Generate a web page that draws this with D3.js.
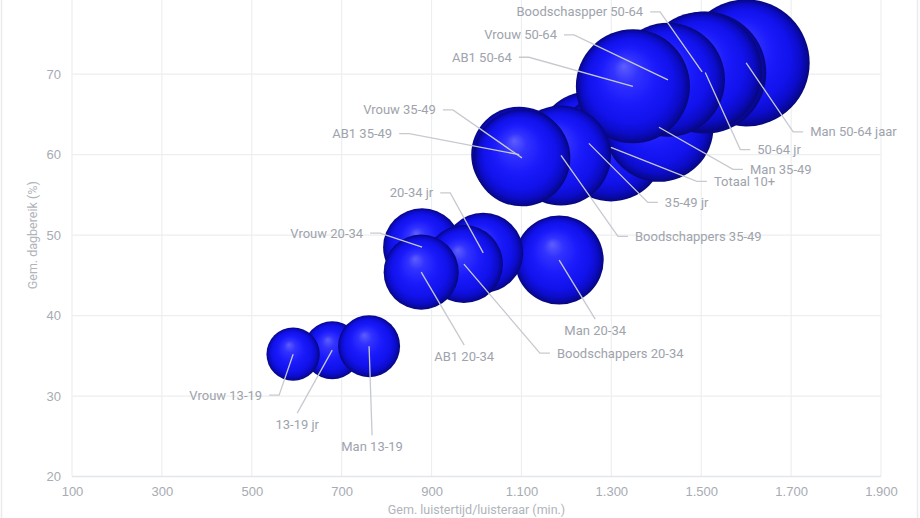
<!DOCTYPE html>
<html>
<head>
<meta charset="utf-8">
<script src="https://cdn.jsdelivr.net/npm/d3@7"></script>
<style>
  html, body { margin: 0; padding: 0; background: #ffffff; }
  svg { display: block; font-family: Roboto, "Noto Sans", sans-serif; }
</style>
</head>
<body>
<svg id="chart" width="920" height="518"></svg>
<script>
// ---- data (back-to-front draw order) ----
const labels = [
  "35-49 jr", "Totaal 10+", "Man 35-49", "Man 50-64 jaar", "50-64 jr",
  "Boodschaspper 50-64", "Vrouw 50-64", "AB1 50-64", "Boodschappers 35-49",
  "AB1 35-49", "Vrouw 35-49", "Man 20-34", "20-34 jr", "Vrouw 20-34",
  "Boodschappers 20-34", "AB1 20-34", "13-19 jr", "Vrouw 13-19", "Man 13-19"
];
// Gem. luistertijd/luisteraar (min.)
const listenTime = [
  1250, 1299, 1406, 1600, 1509,
  1502, 1426, 1348, 1188,
  1095, 1101, 1184, 1015, 879,
  972, 877, 679, 592, 761
];
// Gem. dagbereik (%)
const dailyReach = [
  61.4, 60.9, 63.4, 71.4, 70.2,
  70.3, 69.3, 68.5, 59.9,
  60.0, 59.6, 46.9, 47.8, 48.5,
  46.4, 45.4, 35.7, 35.2, 36.2
];
// bubble size value
const bubbleSize = [
  270, 292, 297, 403, 372,
  360, 325, 325, 250,
  230, 235, 198, 160, 152,
  152, 141, 84, 71, 96
];
const xTicks = [100, 300, 500, 700, 900, 1100, 1300, 1500, 1700, 1900];
const yTicks = [20, 30, 40, 50, 60, 70];
const xTitle = "Gem. luistertijd/luisteraar (min.)";
const yTitle = "Gem. dagbereik (%)";

// ---- label layout (offsets from bubble centre, px) ----
const labelLayout = {
  "Vrouw 35-49":        {side: "left",  dx: -86,  dy: -48},
  "AB1 35-49":          {side: "left",  dx: -127, dy: -21},
  "20-34 jr":           {side: "left",  dx: -50,  dy: -60},
  "Vrouw 20-34":        {side: "left",  dx: -59,  dy: -14},
  "AB1 50-64":          {side: "left",  dx: -121, dy: -29},
  "Vrouw 50-64":        {side: "left",  dx: -111, dy: -45},
  "Boodschaspper 50-64":{side: "left",  dx: -59,  dy: -60},
  "Vrouw 13-19":        {side: "left",  dx: -31,  dy: 41},
  "Man 50-64 jaar":     {side: "right", dx: 64,   dy: 69},
  "50-64 jr":           {side: "right", dx: 52,   dy: 77},
  "Man 35-49":          {side: "right", dx: 91,   dy: 42},
  "Totaal 10+":         {side: "right", dx: 103,  dy: 34},
  "35-49 jr":           {side: "right", dx: 76,   dy: 59},
  "Boodschappers 35-49":{side: "right", dx: 74,   dy: 81},
  "Boodschappers 20-34":{side: "right", dx: 93,   dy: 89},
  "13-19 jr":           {side: "below", dx: -35,  dy: 74},
  "Man 13-19":          {side: "below", dx: 3,    dy: 100},
  "Man 20-34":          {side: "below", dx: 36,   dy: 70},
  "AB1 20-34":          {side: "below", dx: 43,   dy: 84}
};

const svg = d3.select("#chart");
const left = 72, right = 881, bottom = 476.5, topY = 0;

const x = d3.scaleLinear().domain([100, 1900]).range([left, right]);
const y = d3.scaleLinear().domain([20, 80]).range([bottom, bottom - 60 * 8.046]);
const r = d3.scaleSqrt().domain([0, d3.max(bubbleSize)]).range([0, 63.5]);

const nl = d3.formatLocale({decimal: ",", thousands: ".", grouping: [3], currency: ["€", ""]});
const fmt = nl.format(",");

// frame lines
svg.append("line").attr("x1", 1.5).attr("x2", 1.5).attr("y1", 0).attr("y2", 518)
  .attr("stroke", "#e9ebee").attr("stroke-width", 1.5);
svg.append("line").attr("x1", 917.5).attr("x2", 917.5).attr("y1", 0).attr("y2", 518)
  .attr("stroke", "#e9ebee").attr("stroke-width", 1.5);

// gradient
const defs = svg.append("defs");
const grad = defs.append("radialGradient").attr("id", "sphere")
  .attr("cx", "50%").attr("cy", "50%").attr("r", "50%")
  .attr("fx", "42%").attr("fy", "32%");
[[0, "#5e5eff"], [0.22, "#3232ff"], [0.5, "#1a1afb"], [0.74, "#1212ec"], [0.88, "#0c0cc8"], [0.96, "#08089a"], [1, "#070778"]]
  .forEach(([o, c]) => grad.append("stop").attr("offset", o).attr("stop-color", c));

// grid
const grid = svg.append("g");
grid.selectAll("line.v").data(xTicks).join("line")
  .attr("x1", d => x(d)).attr("x2", d => x(d))
  .attr("y1", topY).attr("y2", bottom)
  .attr("stroke", "#eceef1").attr("stroke-width", 1.2);
grid.selectAll("line.h").data(yTicks).join("line")
  .attr("x1", left).attr("x2", right)
  .attr("y1", d => y(d)).attr("y2", d => y(d))
  .attr("stroke", d => d === 20 ? "#e2e5e9" : "#eceef1").attr("stroke-width", d => d === 20 ? 1.6 : 1.2);

// axes
const xAxis = svg.append("g").attr("transform", `translate(0,${bottom})`)
  .call(d3.axisBottom(x).tickValues(xTicks).tickFormat(fmt).tickSize(0).tickPadding(10));
xAxis.select(".domain").remove();
xAxis.selectAll("text").attr("fill", "#a7abb2").attr("font-size", 13);

const yAxis = svg.append("g").attr("transform", `translate(${left},0)`)
  .call(d3.axisLeft(y).tickValues(yTicks).tickSize(0).tickPadding(11));
yAxis.select(".domain").remove();
yAxis.selectAll("text").attr("fill", "#a7abb2").attr("font-size", 13);

svg.append("text").attr("x", (left + right) / 2).attr("y", 514)
  .attr("text-anchor", "middle").attr("font-size", 12.5).attr("fill", "#b0b4ba").text(xTitle);
svg.append("text").attr("transform", `translate(36.5,${(topY + bottom) / 2 - 3}) rotate(-90)`)
  .attr("text-anchor", "middle").attr("font-size", 12.5).attr("fill", "#b0b4ba").text(yTitle);

// bubbles
const pts = labels.map((l, i) => ({label: l, cx: x(listenTime[i]), cy: y(dailyReach[i]), rr: r(bubbleSize[i])}));
svg.append("g").selectAll("circle").data(pts).join("circle")
  .attr("cx", d => d.cx).attr("cy", d => d.cy).attr("r", d => d.rr)
  .attr("fill", "url(#sphere)");

// leader lines + labels
const lg = svg.append("g");
pts.forEach(d => {
  const L = labelLayout[d.label];
  const tx = d.cx + L.dx, ty = d.cy + L.dy;
  let path, anchor;
  if (L.side === "left") {
    path = `M${d.cx},${d.cy}L${tx + 17},${ty}L${tx + 7},${ty}`;
    anchor = "end";
  } else if (L.side === "right") {
    path = `M${d.cx},${d.cy}L${tx - 17},${ty}L${tx - 7},${ty}`;
    anchor = "start";
  } else {
    path = `M${d.cx},${d.cy}L${tx},${ty - 11}`;
    anchor = "middle";
  }
  lg.append("path").attr("d", path).attr("fill", "none")
    .attr("stroke", "#c6cad0").attr("stroke-width", 1.3);
  lg.append("text").attr("x", tx).attr("y", ty).attr("dy", "0.35em")
    .attr("text-anchor", anchor).attr("font-size", 13).attr("fill", "#9ea3ac")
    .text(d.label);
});
</script>
</body>
</html>
